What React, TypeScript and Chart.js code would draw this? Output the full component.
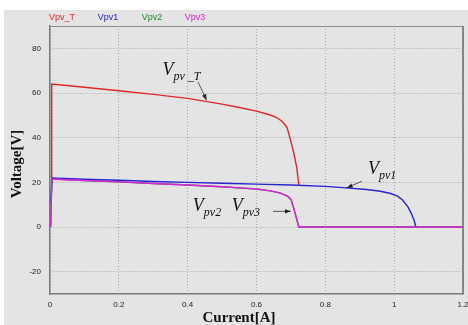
import React, { useEffect, useRef } from 'react';
import { Chart, registerables } from 'chart.js';
Chart.register(...registerables);

const seriesNames = ['Vpv_T', 'Vpv1', 'Vpv2', 'Vpv3'];
const seriesColors = ['#e02828', '#2424d0', '#1f8a1f', '#e020e0'];

const vpvTX = [0.003, 0.005, 0.1, 0.2, 0.3, 0.4, 0.5, 0.55, 0.6, 0.63, 0.648, 0.662, 0.673, 0.682, 0.689, 0.697, 0.707, 0.717, 0.723];
const vpvTY = [20, 64, 62.6, 61, 59.4, 57.6, 55, 53.5, 51.9, 50.6, 49.7, 48.7, 47.5, 46, 44.4, 40, 34, 26.6, 18.8];

const vpv1X = [0.003, 0.006, 0.1, 0.2, 0.3, 0.4, 0.5, 0.6, 0.7, 0.8, 0.86, 0.92, 0.96, 0.99, 1.01, 1.025, 1.04, 1.05, 1.058, 1.063];
const vpv1Y = [11, 22, 21.4, 20.9, 20.4, 20, 19.6, 19.2, 18.8, 18.2, 17.5, 16.8, 16, 15, 13.8, 12, 9, 6, 3, 0];

const vpv2X = [0.002, 0.005, 0.1, 0.2, 0.3, 0.4, 0.5, 0.55, 0.6, 0.64, 0.67, 0.69, 0.7, 0.709, 0.716, 0.723, 1.2];
const vpv2Y = [0, 21.5, 20.8, 20.2, 19.5, 18.8, 18, 17.5, 17, 16.2, 15.2, 13.8, 12.5, 8, 4, 0, 0];

const vpv3X = [0.002, 0.005, 0.1, 0.2, 0.3, 0.4, 0.5, 0.55, 0.6, 0.64, 0.67, 0.69, 0.7, 0.709, 0.716, 0.723, 1.2];
const vpv3Y = [0, 21.5, 20.8, 20.2, 19.5, 18.8, 18, 17.5, 17, 16.2, 15.2, 13.8, 12.5, 8, 4, 0, 0];

const xTicks = [0, 0.2, 0.4, 0.6, 0.8, 1, 1.2];
const yTicks = [-20, 0, 20, 40, 60, 80];

const xTitle = 'Current[A]';
const yTitle = 'Voltage[V]';

const toPts = (xs: number[], ys: number[]) => xs.map((x, i) => ({ x, y: ys[i] }));

const drawArrow = (ctx: CanvasRenderingContext2D, x1: number, y1: number, x2: number, y2: number) => {
  ctx.save();
  ctx.strokeStyle = '#333';
  ctx.fillStyle = '#222';
  ctx.lineWidth = 0.8;
  ctx.beginPath();
  ctx.moveTo(x1, y1);
  ctx.lineTo(x2, y2);
  ctx.stroke();
  const a = Math.atan2(y2 - y1, x2 - x1);
  const L = 6, W = 2.2;
  ctx.beginPath();
  ctx.moveTo(x2, y2);
  ctx.lineTo(x2 - L * Math.cos(a) + W * Math.sin(a), y2 - L * Math.sin(a) - W * Math.cos(a));
  ctx.lineTo(x2 - L * Math.cos(a) - W * Math.sin(a), y2 - L * Math.sin(a) + W * Math.cos(a));
  ctx.closePath();
  ctx.fill();
  ctx.restore();
};

const drawLabel = (ctx: CanvasRenderingContext2D, x: number, y: number, sub: string) => {
  ctx.save();
  ctx.fillStyle = '#111';
  ctx.textBaseline = 'alphabetic';
  ctx.textAlign = 'left';
  ctx.font = 'italic 18px "Liberation Serif", "DejaVu Serif", serif';
  ctx.fillText('V', x, y);
  const w = ctx.measureText('V').width;
  ctx.font = 'italic 12px "Liberation Serif", "DejaVu Serif", serif';
  ctx.fillText(sub, x + w, y + 5);
  ctx.restore();
};

const decorPlugin = {
  id: 'decor',
  beforeDraw(chart: any) {
    const ctx = chart.ctx;
    ctx.save();
    ctx.fillStyle = '#ffffff';
    ctx.fillRect(0, 0, chart.width, chart.height);
    ctx.fillStyle = '#e4e4e4';
    ctx.fillRect(4, 10, chart.width - 4, chart.height - 10);
    ctx.restore();
  },
  afterDraw(chart: any) {
    const ctx = chart.ctx;
    const { left, right, top, bottom } = chart.chartArea;
    const xs = chart.scales.x;
    const ys = chart.scales.y;
    ctx.save();
    // frame top & right
    ctx.lineWidth = 1.2;
    ctx.strokeStyle = '#8a8a8a';
    ctx.beginPath();
    ctx.moveTo(left, top + 0.5);
    ctx.lineTo(right, top + 0.5);
    ctx.stroke();
    ctx.strokeStyle = '#6a6a6a';
    ctx.lineWidth = 1.5;
    ctx.beginPath();
    ctx.moveTo(right, top);
    ctx.lineTo(right, bottom);
    ctx.stroke();

    // legend
    ctx.font = '9px "Liberation Sans", Arial, sans-serif';
    ctx.textAlign = 'center';
    ctx.textBaseline = 'middle';
    const legendX = [62, 108, 152, 195];
    seriesNames.forEach((n, i) => {
      ctx.fillStyle = seriesColors[i];
      ctx.fillText(n, legendX[i], 17.5);
    });

    // axis titles
    ctx.fillStyle = '#111';
    ctx.font = 'bold 15px "Liberation Serif", "DejaVu Serif", serif';
    ctx.textAlign = 'center';
    ctx.textBaseline = 'middle';
    ctx.fillText(xTitle, 239, 318);
    ctx.save();
    ctx.translate(17, 164);
    ctx.rotate(-Math.PI / 2);
    ctx.fillText(yTitle, 0, 0);
    ctx.restore();
    ctx.restore();

    // annotations (anchored to data coordinates)
    const px = (v: number) => xs.getPixelForValue(v);
    const py = (v: number) => ys.getPixelForValue(v);
    drawLabel(ctx, px(0.327), py(68), 'pv _T');
    drawArrow(ctx, px(0.43), py(65), px(0.455), py(56.8));
    drawLabel(ctx, px(0.924), py(23.8), 'pv1');
    drawArrow(ctx, px(0.906), py(20.5), px(0.862), py(17.5));
    drawLabel(ctx, px(0.415), py(7), 'pv2');
    drawLabel(ctx, px(0.528), py(7), 'pv3');
    drawArrow(ctx, px(0.648), py(7), px(0.7), py(7));
  },
};

export default function App() {
  const ref = useRef<HTMLCanvasElement>(null);
  useEffect(() => {
    if (!ref.current) return;
    const tickFont = { family: '"Liberation Sans", Arial, sans-serif', size: 8 };
    const chart = new Chart(ref.current, {
      type: 'scatter',
      data: {
        datasets: [
          { label: seriesNames[3], data: toPts(vpv3X, vpv3Y), borderColor: seriesColors[3], order: 0 },
          { label: seriesNames[1], data: toPts(vpv1X, vpv1Y), borderColor: seriesColors[1], order: 1 },
          { label: seriesNames[2], data: toPts(vpv2X, vpv2Y), borderColor: seriesColors[2], order: 2 },
          { label: seriesNames[0], data: toPts(vpvTX, vpvTY), borderColor: seriesColors[0], order: 3 },
        ].map((d) => ({ ...d, showLine: true, pointRadius: 0, borderWidth: 1.4, tension: 0, fill: false })),
      },
      options: {
        responsive: false,
        animation: false,
        layout: { padding: { top: 26, right: 5, left: 0, bottom: 0 } },
        plugins: { legend: { display: false }, tooltip: { enabled: false } },
        scales: {
          x: {
            type: 'linear',
            min: 0,
            max: 1.2,
            afterBuildTicks: (s: any) => { s.ticks = xTicks.map((v) => ({ value: v })); },
            afterFit: (s: any) => { s.height = 31; s.paddingLeft = 0; s.paddingRight = 0; },
            ticks: {
              font: tickFont,
              color: '#222',
              padding: 6,
              maxRotation: 0,
              autoSkip: false,
              callback: (v: any) => String(+Number(v).toFixed(1)),
            },
            grid: { color: '#a4a4a4', drawTicks: false, lineWidth: 1 },
            border: { color: '#7a7a7a', width: 1.5, dash: [1, 2] },
          },
          y: {
            type: 'linear',
            min: -30,
            max: 90,
            afterBuildTicks: (s: any) => { s.ticks = yTicks.map((v) => ({ value: v })); },
            afterFit: (s: any) => { s.width = 50; s.paddingTop = 0; s.paddingBottom = 0; },
            ticks: { font: tickFont, color: '#222', padding: 9, autoSkip: false },
            grid: { color: '#a4a4a4', drawTicks: false, lineWidth: 1 },
            border: { color: '#7a7a7a', width: 1.5, dash: [1, 2] },
          },
        },
      },
      plugins: [decorPlugin],
    } as any);
    return () => chart.destroy();
  }, []);
  return (
    <div style={{ position: 'absolute', left: 0, top: 0, width: 468, height: 325 }}>
      <canvas ref={ref} width={468} height={325} />
    </div>
  );
}
